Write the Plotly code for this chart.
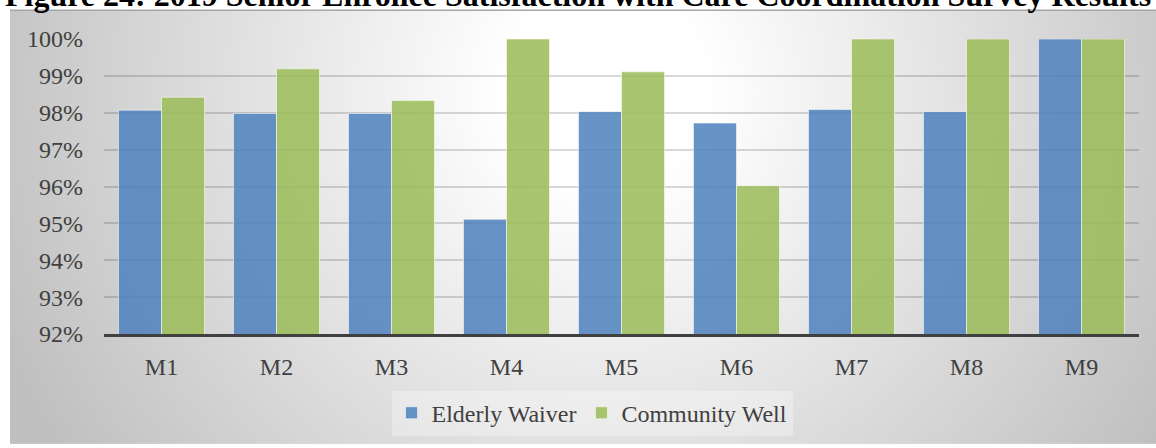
import plotly.graph_objects as go

# Survey measures and satisfaction rates (percent)
measures = ["M1", "M2", "M3", "M4", "M5", "M6", "M7", "M8", "M9"]
elderly_waiver = [98.07, 97.98, 97.98, 95.11, 98.03, 97.72, 98.09, 98.03, 100.0]
community_well = [98.42, 99.19, 98.33, 100.0, 99.11, 96.02, 100.0, 100.0, 100.0]
y_ticks = [92, 93, 94, 95, 96, 97, 98, 99, 100]
y_tick_labels = [f"{v}%" for v in y_ticks]

title_text = ("Figure 24: 2019 Senior Enrollee Satisfaction with Care "
              "Coordination Survey Results")

W, H = 1156, 448
L, R, T, B = 104, 17, 39, 111
plot_w = W - L - R
plot_h = H - T - B


def px_to_paper_x(px):
    return (px - L) / plot_w


def px_to_paper_y(py):
    return (H - B - py) / plot_h


SERIF = "Liberation Serif"
TEXT_COLOR = "#404040"

# Radial grey gradient used as the chart-area fill
box_x0, box_y0 = 10, 10
box_w, box_h = W - box_x0, H - box_y0
gradient_svg = (
    "<svg xmlns='http://www.w3.org/2000/svg' width='{w}' height='{h}' "
    "viewBox='0 0 {w} {h}' preserveAspectRatio='none'>"
    "<defs><radialGradient id='g' gradientUnits='userSpaceOnUse' "
    "cx='595' cy='80' r='660'>"
    "<stop offset='0' stop-color='#ffffff'/>"
    "<stop offset='0.15' stop-color='#ffffff'/>"
    "<stop offset='1' stop-color='#bfbfbf'/>"
    "</radialGradient></defs>"
    "<rect x='0' y='0' width='{w}' height='{h}' fill='url(#g)'/></svg>"
).format(w=box_w, h=box_h)
gradient_uri = "data:image/svg+xml;charset=utf-8," + gradient_svg.replace(
    "#", "%23").replace("<", "%3C").replace(">", "%3E").replace(" ", "%20")

fig = go.Figure()
fig.add_trace(go.Bar(
    name="Elderly Waiver", x=measures, y=elderly_waiver,
    marker=dict(color="rgba(79,129,189,0.86)",
                line=dict(color="rgba(255,255,255,0.55)", width=1)),
))
fig.add_trace(go.Bar(
    name="Community Well", x=measures, y=community_well,
    marker=dict(color="rgba(155,187,89,0.86)",
                line=dict(color="rgba(255,255,255,0.55)", width=1)),
))

fig.update_layout(
    width=W, height=H,
    margin=dict(l=L, r=R, t=T, b=B, pad=0),
    paper_bgcolor="white",
    plot_bgcolor="rgba(0,0,0,0)",
    barmode="group", bargap=0.252, bargroupgap=0,
    font=dict(family=SERIF, size=24, color=TEXT_COLOR),
    showlegend=True,
    legend=dict(
        orientation="h",
        x=px_to_paper_x(592), xanchor="center",
        y=px_to_paper_y(417), yanchor="middle",
        bgcolor="rgba(255,255,255,0.3)",
        borderwidth=0,
        font=dict(family=SERIF, size=24, color=TEXT_COLOR),
        traceorder="normal",
    ),
    xaxis=dict(
        showgrid=False, zeroline=False,
        showline=True, linecolor="#404040", linewidth=3,
        ticks="", ticklabelstandoff=9,
        tickfont=dict(family=SERIF, size=24, color=TEXT_COLOR),
    ),
    yaxis=dict(
        range=[92, 100], tickvals=y_ticks, ticktext=y_tick_labels,
        showgrid=True, gridcolor="rgba(0,0,0,0.15)", gridwidth=2,
        zeroline=False, showline=False, ticks="",
        ticklabelstandoff=20,
        tickfont=dict(family=SERIF, size=24, color=TEXT_COLOR),
    ),
    images=[dict(
        source=gradient_uri, xref="paper", yref="paper",
        x=px_to_paper_x(box_x0), y=px_to_paper_y(box_y0),
        sizex=box_w / plot_w, sizey=box_h / plot_h,
        xanchor="left", yanchor="top", sizing="stretch", layer="below",
    )],
    shapes=[dict(
        type="line", xref="paper", yref="paper",
        x0=px_to_paper_x(box_x0), x1=px_to_paper_x(W),
        y0=px_to_paper_y(box_y0), y1=px_to_paper_y(box_y0),
        line=dict(color="#a6a6a6", width=1.5),
    )],
    annotations=[dict(
        text="<b>" + title_text + "</b>",
        xref="paper", yref="paper",
        x=px_to_paper_x(3), xanchor="left",
        y=px_to_paper_y(15), yanchor="bottom",
        showarrow=False,
        font=dict(family=SERIF, size=32, color="black"),
    )],
)

fig.write_html("out.html")
